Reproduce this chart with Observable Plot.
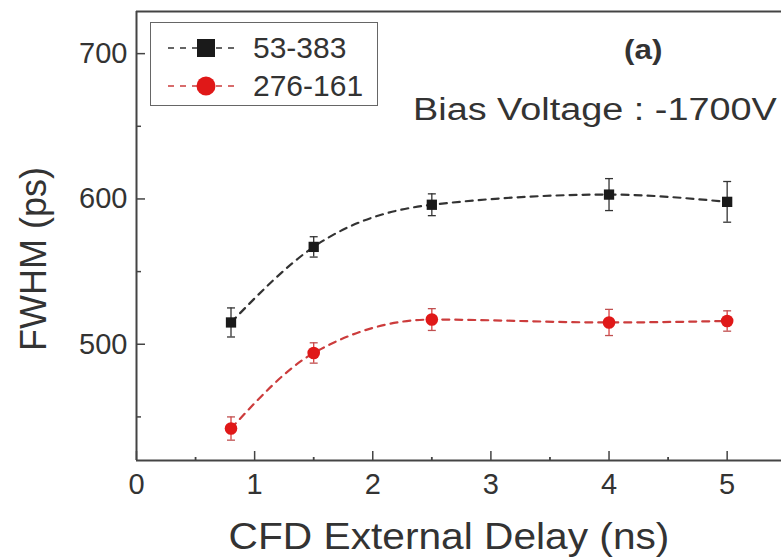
<!DOCTYPE html>
<html><head><meta charset="utf-8">
<script src="https://cdn.jsdelivr.net/npm/d3@7"></script>
<script src="https://cdn.jsdelivr.net/npm/@observablehq/plot@0.6"></script>
<style>
body{margin:0;background:#fff;font-family:"Liberation Sans",Arial,sans-serif;color:#333;}
#wrap{position:relative;width:781px;height:560px;overflow:hidden;}
.legend{position:absolute;left:150px;top:22px;width:228px;height:84px;border:1.5px solid #666;box-sizing:border-box;background:#fff;}
.row{position:absolute;left:0;height:36px;display:flex;align-items:center;}
.row span{font-size:30px;color:#333;margin-left:6px;}
.ann{position:absolute;white-space:nowrap;color:#333;line-height:1;}
</style></head><body><div id="wrap"></div>
<script>
// ---- data ----
const delays = [0.8, 1.5, 2.5, 4, 5];
const fwhm53 = [515, 567, 596, 603, 598];
const err53 = [10, 7, 7.5, 11, 14];
const fwhm276 = [442, 494, 517, 515, 516];
const err276 = [8, 7, 7.5, 9, 7];
const seriesNames = ["53-383", "276-161"];
const seriesColors = ["#1a1a1a", "#e01818"];
const lineColors = ["#333", "#cc3c3c"];
const xTicks = [0, 1, 2, 3, 4, 5];
const xMinor = [0.5, 1.5, 2.5, 3.5, 4.5];
const yTicks = [500, 600, 700];
const yMinor = [450, 550, 650];
const xDomain = [0, 5.46];
const yDomain = [420, 729];
const xTitle = "CFD External Delay (ns)";
const yTitle = "FWHM (ps)";
const panelLabel = "(a)";
const note = "Bias Voltage : -1700V";

const rows = [];
[[fwhm53, err53], [fwhm276, err276]].forEach(([v, e], s) => {
  delays.forEach((d, i) => rows.push({series: seriesNames[s], x: d, y: v[i], lo: v[i] - e[i], hi: v[i] + e[i]}));
});
const s0 = rows.filter(d => d.series === seriesNames[0]);
const s1 = rows.filter(d => d.series === seriesNames[1]);

const capSymbol = {draw(ctx, size) { const w = Math.sqrt(size) / 2; ctx.moveTo(-w, 0); ctx.lineTo(w, 0); }};

const chart = Plot.plot({
  width: 781, height: 560,
  marginLeft: 136, marginRight: 0, marginTop: 11, marginBottom: 100,
  style: {fontFamily: "Liberation Sans, Arial, sans-serif", color: "#333", background: "#fff"},
  x: {domain: xDomain},
  y: {domain: yDomain},
  marks: [
    // axis lines (frame on three sides)
    Plot.ruleX([xDomain[0]], {stroke: "#444", strokeWidth: 2}),
    Plot.ruleY([yDomain[0]], {stroke: "#444", strokeWidth: 2}),
    Plot.ruleY([yDomain[1]], {stroke: "#444", strokeWidth: 2}),
    // inward ticks
    Plot.axisX({ticks: xTicks, tickSize: -9, tickFormat: () => "", label: null, stroke: "#444", strokeWidth: 1.5}),
    Plot.axisX({ticks: xMinor, tickSize: -3, tickFormat: () => "", label: null, stroke: "#444", strokeWidth: 1.8}),
    Plot.axisY({ticks: yTicks, tickSize: -9, tickFormat: () => "", label: null, stroke: "#444", strokeWidth: 1.5}),
    Plot.axisY({ticks: yMinor, tickSize: -5, tickFormat: () => "", label: null, stroke: "#444", strokeWidth: 1.5}),
    // tick labels
    Plot.axisX({ticks: xTicks, tickSize: 0, tickPadding: 13, fontSize: 29, tickFormat: d3.format("d"), label: null}),
    Plot.axisY({ticks: yTicks, tickSize: 0, tickPadding: 9, fontSize: 29, label: null}),
    // lines
    Plot.line(s0, {x: "x", y: "y", curve: "monotone-x", stroke: lineColors[0], strokeWidth: 2.2, strokeDasharray: "7,6"}),
    Plot.line(s1, {x: "x", y: "y", curve: "monotone-x", stroke: lineColors[1], strokeWidth: 2.2, strokeDasharray: "7,6"}),
    // error bars
    Plot.ruleX(s0, {x: "x", y1: "lo", y2: "hi", stroke: "#333", strokeWidth: 1.3}),
    Plot.ruleX(s1, {x: "x", y1: "lo", y2: "hi", stroke: "#d84040", strokeWidth: 1.3}),
    Plot.dot(s0, {x: "x", y: "lo", symbol: capSymbol, r: 4.5, stroke: "#333", strokeWidth: 1.3}),
    Plot.dot(s0, {x: "x", y: "hi", symbol: capSymbol, r: 4.5, stroke: "#333", strokeWidth: 1.3}),
    Plot.dot(s1, {x: "x", y: "lo", symbol: capSymbol, r: 4.5, stroke: "#c05050", strokeWidth: 1.3}),
    Plot.dot(s1, {x: "x", y: "hi", symbol: capSymbol, r: 4.5, stroke: "#c05050", strokeWidth: 1.3}),
    // markers
    Plot.dot(s0, {x: "x", y: "y", symbol: "square", r: 5.8, fill: seriesColors[0], stroke: "none"}),
    Plot.dot(s1, {x: "x", y: "y", symbol: "circle", r: 6.3, fill: seriesColors[1], stroke: "none"})
  ]
});
chart.querySelectorAll("text").forEach(t => t.setAttribute("fill", "#333"));
const wrap = document.getElementById("wrap");
wrap.appendChild(chart);

function addText(text, css) {
  const el = document.createElement("div");
  el.className = "ann"; el.textContent = text; el.style.cssText = css;
  wrap.appendChild(el);
  return el;
}
// axis titles
addText(xTitle, "left:449px;top:519px;font-size:36px;transform:translateX(-50%) scaleX(1.13);");
addText(yTitle, "left:34px;top:259px;font-size:36px;transform:translate(-50%,-50%) rotate(-90deg);");

// legend
const leg = document.createElement("div");
leg.className = "legend";
const shapes = [
  `<rect x="46" y="9" width="18" height="18" fill="${seriesColors[0]}"/>`,
  `<circle cx="55" cy="18" r="9.5" fill="${seriesColors[1]}"/>`
];
seriesNames.forEach((name, i) => {
  const row = document.createElement("div");
  row.className = "row";
  row.style.top = (7 + i * 38) + "px";
  row.innerHTML = `<svg width="96" height="36"><line x1="17" x2="89" y1="18" y2="18" stroke="${lineColors[i]}" stroke-width="1.6" stroke-dasharray="6,6"/>${shapes[i]}</svg><span>${name}</span>`;
  leg.appendChild(row);
});
wrap.appendChild(leg);

addText(panelLabel, "left:624px;top:36px;font-size:28px;font-weight:bold;transform:scaleX(1.12);transform-origin:left center;");
addText(note, "left:413px;top:94px;font-size:31px;transform:scaleX(1.22);transform-origin:left center;");
</script>
</body></html>
